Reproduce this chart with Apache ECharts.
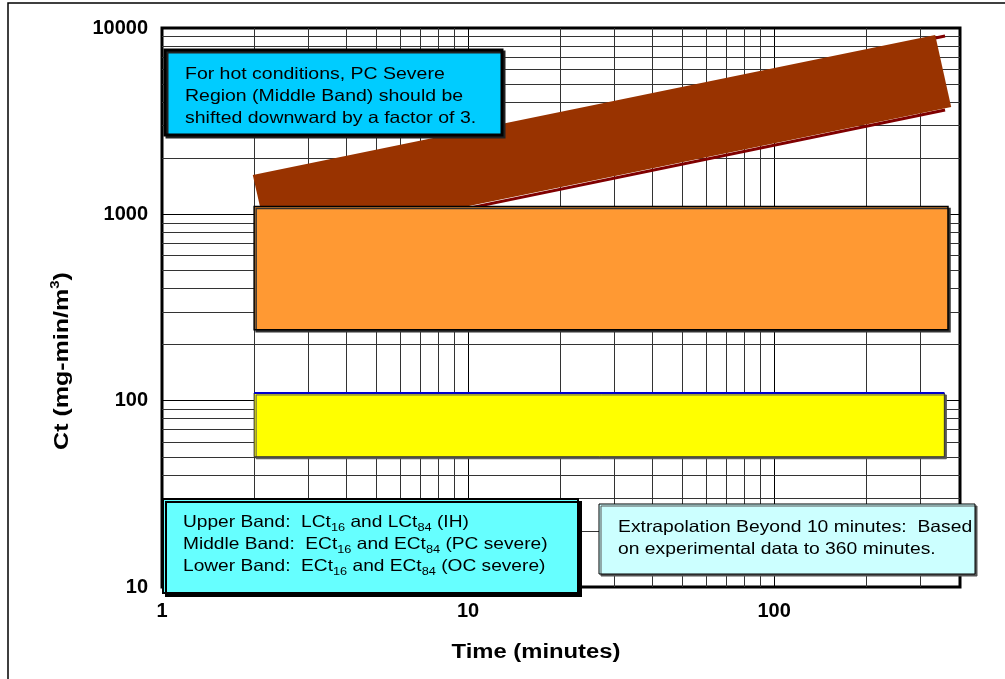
<!DOCTYPE html>
<html>
<head>
<meta charset="utf-8">
<script src="https://cdn.jsdelivr.net/npm/echarts@6/dist/echarts.min.js"></script>
<style>
html,body{margin:0;padding:0;background:#fff}
#chart{width:1005px;height:679px}
</style>
</head>
<body>
<div id="chart"></div>
<script>
// axis values
var xLabels = [1, 10, 100];
var yLabels = [10, 100, 1000, 10000];
var xMinor = [2, 3, 4, 5, 6, 7, 8, 9, 20, 30, 40, 50, 60, 70, 80, 90, 200, 300];
var yMinor = [20, 30, 40, 50, 60, 70, 80, 90, 200, 300, 400, 500, 600, 700, 800, 900,
    2000, 3000, 4000, 5000, 6000, 7000, 8000, 9000];

// lower band (OC severe)
var lowerTime = [2, 360];
var lowerCt = [50, 110];
// middle band (PC severe)
var middleTime = [2, 370];
var middleCt = [240, 1100];
// upper band (IH) edge lines
var upperTime = [2, 362];
var upperLow = [625, 3630];
var upperHigh = [1570, 9060];
// upper band, drawn shape on top
var shapeTime = [1.98, 336, 379, 2.24];
var shapeCt = [1625, 9170, 3770, 667];

var FONT = '"Liberation Sans", Arial, sans-serif';

var chart = echarts.init(document.getElementById('chart'));

function isDecade(v) {
    var l = Math.log(v) / Math.LN10;
    return Math.abs(l - Math.round(l)) < 1e-6;
}

function polySeries(xs, ys, style, z) {
    var data = [];
    for (var k = 0; k < xs.length; k++) data.push([xs[k], ys[k]]);
    return {
        type: 'custom',
        coordinateSystem: 'cartesian2d',
        z: z,
        silent: true,
        data: data,
        renderItem: function (params, api) {
            if (params.dataIndex !== 0) return null;
            var pts = [];
            for (var k = 0; k < data.length; k++) pts.push(api.coord(data[k]));
            return {type: 'polygon', shape: {points: pts}, style: style};
        }
    };
}

function boxSeries(xr, yr, style, z) {
    return polySeries([xr[0], xr[1], xr[1], xr[0]], [yr[0], yr[0], yr[1], yr[1]], style, z);
}

function edgeLine(xs, ys, color, z) {
    return {
        type: 'line', z: z, silent: true, symbol: 'none',
        data: [[xs[0], ys[0]], [xs[1], ys[1]]],
        lineStyle: {color: color, width: 3}
    };
}

var gridLines = [];
xMinor.forEach(function (v) { gridLines.push({xAxis: v}); });
yMinor.forEach(function (v) { gridLines.push({yAxis: v}); });

var option = {
    animation: false,
    backgroundColor: '#fff',
    grid: {left: 162, top: 28, right: 45, bottom: 92, show: true, borderColor: '#000', borderWidth: 3, backgroundColor: 'transparent'},
    xAxis: {
        type: 'log', logBase: 10, min: 1, max: 405,
        axisLine: {show: false},
        axisTick: {show: false},
        splitLine: {show: true, lineStyle: {color: '#000', width: 1}},
        axisLabel: {
            margin: 14, fontFamily: FONT, fontWeight: 'bold', fontSize: 20, color: '#000',
            formatter: function (v) { return isDecade(v) ? String(Math.round(v)) : ''; }
        }
    },
    yAxis: {
        type: 'log', logBase: 10, min: 10, max: 10000,
        axisLine: {show: false},
        axisTick: {show: false},
        splitLine: {show: true, lineStyle: {color: '#000', width: 1}},
        axisLabel: {
            margin: 14, fontFamily: FONT, fontWeight: 'bold', fontSize: 20, color: '#000',
            formatter: function (v) { return String(Math.round(v)); }
        }
    },
    series: [
        {
            type: 'line', data: [], z: 1, silent: true,
            markLine: {
                z: 1, silent: true, symbol: ['none', 'none'], label: {show: false},
                lineStyle: {color: '#333', width: 1, type: 'solid'},
                emphasis: {disabled: true},
                data: gridLines
            }
        },
        boxSeries(lowerTime, lowerCt, {fill: '#ffff00', stroke: '#333', lineWidth: 1,
            shadowColor: '#555', shadowOffsetX: 2, shadowOffsetY: 2, shadowBlur: 0}, 3),
        {
            type: 'line', z: 4, silent: true, symbol: 'none',
            data: [[lowerTime[0], lowerCt[1]], [lowerTime[1], lowerCt[1]]],
            lineStyle: {color: '#0000cc', width: 2}
        },
        boxSeries(middleTime, middleCt, {fill: '#ff9933', stroke: '#000', lineWidth: 1.5,
            shadowColor: '#333', shadowOffsetX: 2, shadowOffsetY: 2, shadowBlur: 0}, 5),
        edgeLine(upperTime, upperLow, '#800000', 3),
        edgeLine(upperTime, upperHigh, '#800000', 3),
        polySeries(shapeTime, shapeCt, {fill: '#993300'}, 4)
    ],
    graphic: [
        {type: 'rect', z: 0, silent: true, shape: {x: 8, y: 3, width: 1100, height: 800},
            style: {fill: null, stroke: '#000', lineWidth: 1.5}},
        {type: 'text', z: 20, x: 62, y: 361, rotation: Math.PI / 2, scaleX: 1.25,
            style: {text: 'Ct (mg-min/m{sup|3})', fontFamily: FONT, fontWeight: 'bold', fontSize: 20,
                fill: '#000', align: 'center', verticalAlign: 'middle', lineHeight: 24,
                rich: {sup: {fontFamily: FONT, fontWeight: 'bold', fontSize: 12, lineHeight: 14, verticalAlign: 'top', fill: '#000'}}}},
        {type: 'text', z: 20, x: 536, y: 652, scaleX: 1.19,
            style: {text: 'Time (minutes)', fontFamily: FONT, fontWeight: 'bold', fontSize: 20,
                fill: '#000', align: 'center', verticalAlign: 'middle'}},
        {
            type: 'group', x: 165, y: 50,
            children: [
                {type: 'rect', z: 30, shape: {x: 0, y: 0, width: 337, height: 85},
                    style: {fill: '#00ccff', stroke: '#000', lineWidth: 3,
                        shadowColor: '#222', shadowOffsetX: 2, shadowOffsetY: 2, shadowBlur: 0}},
                {type: 'text', z: 31, x: 20, y: 13, scaleX: 1.18,
                    style: {text: 'For hot conditions, PC Severe\nRegion (Middle Band) should be\nshifted downward by a factor of 3.',
                        fontFamily: FONT, fontSize: 16.5, lineHeight: 22, fill: '#000', verticalAlign: 'top'}}
            ]
        },
        {
            type: 'group', x: 163, y: 499,
            children: [
                {type: 'rect', z: 30, shape: {x: 0, y: 0, width: 415, height: 94},
                    style: {fill: '#66ffff', stroke: '#000', lineWidth: 2,
                        shadowColor: '#000', shadowOffsetX: 3, shadowOffsetY: 3, shadowBlur: 0}},
                {type: 'text', z: 31, x: 20, y: 12, scaleX: 1.16,
                    style: {text: 'Upper Band:  LCt{sub|16} and LCt{sub|84} (IH)\nMiddle Band:  ECt{sub|16} and ECt{sub|84} (PC severe)\nLower Band:  ECt{sub|16} and ECt{sub|84} (OC severe)',
                        fontFamily: FONT, fontSize: 16.5, lineHeight: 22, fill: '#000', verticalAlign: 'top',
                        rich: {sub: {fontFamily: FONT, fontSize: 11, lineHeight: 14, verticalAlign: 'bottom', fill: '#000'}}}}
            ]
        },
        {
            type: 'group', x: 599, y: 504,
            children: [
                {type: 'rect', z: 30, shape: {x: 0, y: 0, width: 376, height: 70},
                    style: {fill: '#ccffff', stroke: '#000', lineWidth: 1,
                        shadowColor: '#555', shadowOffsetX: 2, shadowOffsetY: 2, shadowBlur: 0}},
                {type: 'text', z: 31, x: 19, y: 12, scaleX: 1.17,
                    style: {text: 'Extrapolation Beyond 10 minutes:  Based\non experimental data to 360 minutes.',
                        fontFamily: FONT, fontSize: 16.5, lineHeight: 22, fill: '#000', verticalAlign: 'top'}}
            ]
        }
    ]
};

chart.setOption(option);
</script>
</body>
</html>
